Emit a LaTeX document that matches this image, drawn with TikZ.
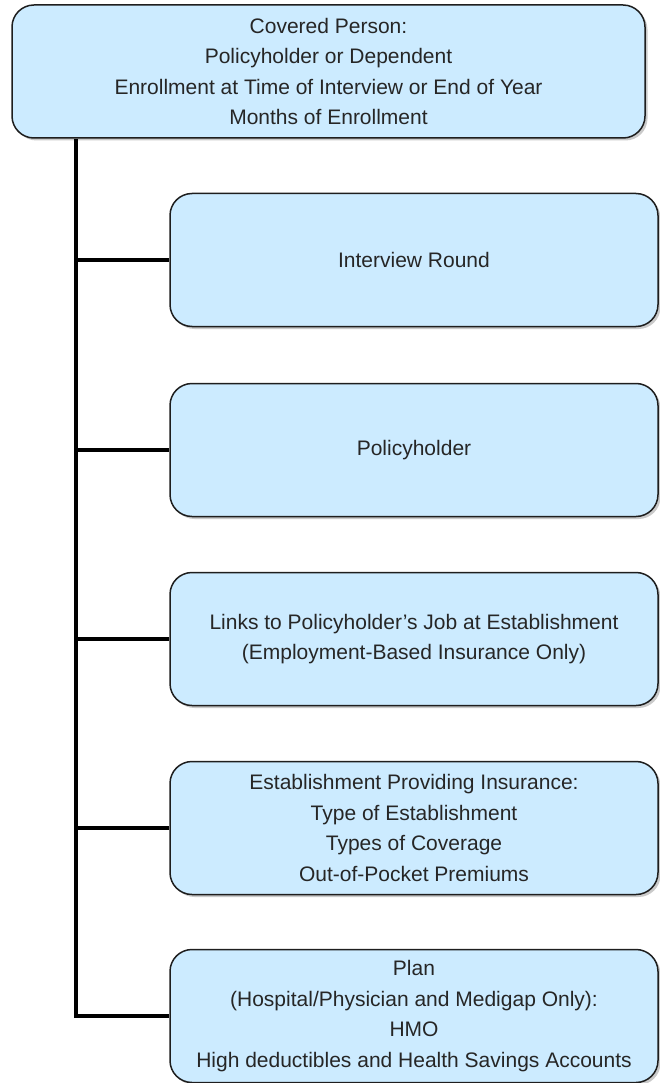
\documentclass[tikz,border=0pt]{standalone}
\usepackage{fontspec}
\setmainfont{Liberation Sans}
\usepackage{tikz}
\usetikzlibrary{shadows}
\definecolor{boxblue}{RGB}{204,235,255}
\definecolor{boxedge}{RGB}{30,30,30}

\begin{document}
\begin{tikzpicture}[x=1pt,y=-1pt,
      itembox/.style={draw=boxedge,line width=1.5pt,fill=boxblue,rounded corners=22pt,
        align=center,inner sep=0pt,font=\fontsize{21}{30.5}\selectfont,text=black!85,
        drop shadow={shadow xshift=2.5pt,shadow yshift=-2.5pt,opacity=.35,fill=black!60}},
      topbox/.style={itembox,minimum width=633pt,minimum height=133pt},
      subbox/.style={itembox,minimum width=488pt,minimum height=133pt},
      branch/.style={draw=black,line width=3.3pt}]
      \useasboundingbox (0,0) rectangle (659,1083);

      \node[topbox] (cov) at (328.5,71.5) {Covered Person:\\Policyholder or Dependent\\Enrollment at Time of Interview or End of Year\\Months of Enrollment};

      \node[subbox] (round) at (414,260) {Interview Round};
      \node[subbox] (holder) at (414,450) {Policyholder};
      \node[subbox] (job) at (414,639) {Links to Policyholder’s Job at Establishment\\(Employment-Based Insurance Only)};
      \node[subbox] (estab) at (414,828) {Establishment Providing Insurance:\\Type of Establishment\\Types of Coverage\\Out-of-Pocket Premiums};
      \node[subbox] (plan) at (414,1016) {Plan\\(Hospital/Physician and Medigap Only):\\HMO\\High deductibles and Health Savings Accounts};

      \coordinate (trunk) at (cov.south -| 76,0);

      \draw[branch] (trunk) |- (plan.west);
      \draw[branch] (trunk |- round.west) -- (round.west);
      \draw[branch] (trunk |- holder.west) -- (holder.west);
      \draw[branch] (trunk |- job.west) -- (job.west);
      \draw[branch] (trunk |- estab.west) -- (estab.west);

   \end{tikzpicture}
\end{document}
